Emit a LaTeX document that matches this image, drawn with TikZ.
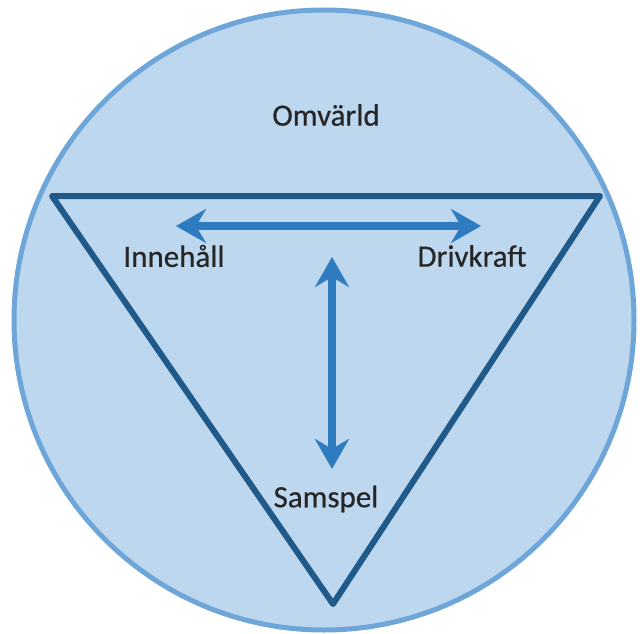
\documentclass[tikz,border=0pt]{standalone}
\usepackage{fontspec}
\setmainfont{Carlito}
\newfontfamily\labelfont{Carlito}[FakeBold=0.5]
\usetikzlibrary{arrows.meta}
\definecolor{worldfill}{HTML}{BDD7EE}
\definecolor{worldedge}{HTML}{6FA6DA}
\definecolor{triedge}{HTML}{1F5A8A}
\definecolor{arrowblue}{HTML}{2E7BC0}
\definecolor{labeltext}{HTML}{262626}
\tikzset{
  world/.style={fill=worldfill, draw=worldedge, line width=5pt},
  frame/.style={draw=triedge, line width=6pt, line join=round},
  link/.style={draw=arrowblue, line width=8pt,
    {Stealth[length=30pt,width=34pt,inset=10pt]}-{Stealth[length=30pt,width=34pt,inset=10pt]}},
  lbl/.style={text=labeltext, font=\labelfont\fontsize{31}{33}\selectfont, inner sep=0pt}
}
\begin{document}
\begin{tikzpicture}[x=1pt,y=-1pt]
  \useasboundingbox (0,0) rectangle (640,634);
  % surrounding world
  \node[world, circle, minimum size=620pt, inner sep=0pt] (world) at (324,320) {};
  % triangle of the three elements
  \coordinate (tl) at (52,196);
  \coordinate (tr) at (600,196);
  \coordinate (bt) at (333,604);
  \draw[frame] (tl) -- (tr) -- (bt) -- cycle;
  % labels
  \node[lbl] (omv) at (326,115) {Omvärld};
  \node[lbl] (inn) at (174,256) {Innehåll};
  \node[lbl] (dri) at (472,256) {Drivkraft};
  \node[lbl] (sam) at (326,499) {Samspel};
  % arrow anchors
  \coordinate (hl) at (176,226);
  \coordinate (hr) at (481,226);
  \coordinate (vt) at (332,257);
  \coordinate (vb) at (332,469);
  \draw[link] (hl) -- (hr);
  \draw[link] (vt) -- (vb);
\end{tikzpicture}
\end{document}
